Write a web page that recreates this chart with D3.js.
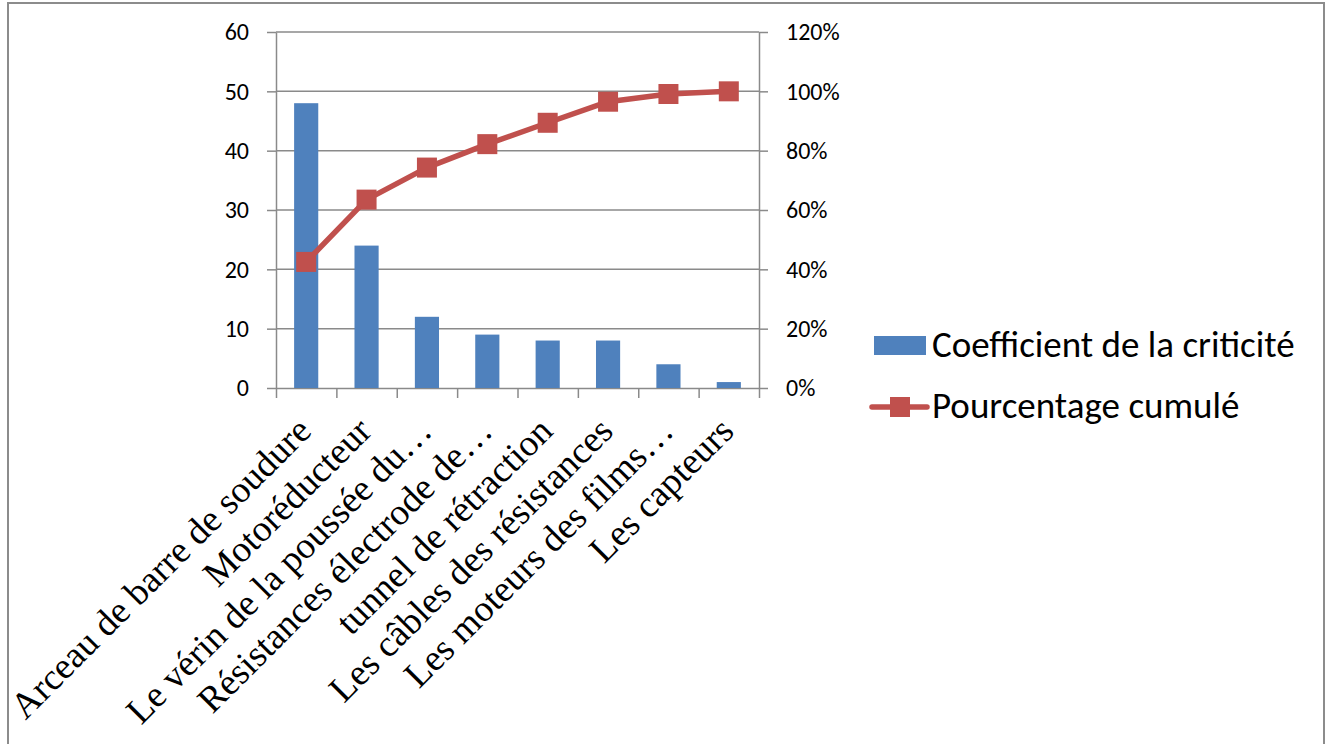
<!DOCTYPE html>
<html>
<head>
<meta charset="utf-8">
<script src="https://cdn.jsdelivr.net/npm/d3@7"></script>
<style>
  html, body { margin: 0; padding: 0; background: #fff; }
  svg { display: block; }
</style>
</head>
<body>
<svg id="chart" width="1330" height="744"></svg>
<script>
const categories = [
  "Arceau de barre de soudure",
  "Motoréducteur",
  "Le vérin de la poussée du…",
  "Résistances électrode de…",
  "tunnel de rétraction",
  "Les câbles des résistances",
  "Les moteurs des films…",
  "Les capteurs"
];
const criticite = [48, 24, 12, 9, 8, 8, 4, 1];
const cumule = [42.5, 63.5, 74.3, 82.2, 89.4, 96.5, 99.1, 100];
const leftTicks = [0, 10, 20, 30, 40, 50, 60];
const rightTicks = [0, 20, 40, 60, 80, 100, 120];
const seriesNames = ["Coefficient de la criticité", "Pourcentage cumulé"];

const BLUE = "#4F81BD", RED = "#C0504D", GRID = "#8a8a8a";
const SANS = "Carlito, Calibri, Lato, 'Open Sans', sans-serif";
const SERIF = "'Liberation Serif', 'Times New Roman', serif";

const svg = d3.select("#chart");
const L = 276, R = 759, T = 32, B = 388;

// outer frame
svg.append("rect").attr("x", 8).attr("y", 3).attr("width", 1316).attr("height", 760)
  .attr("fill", "none").attr("stroke", "#8c8c8c").attr("stroke-width", 2);

const x = d3.scaleBand().domain(categories).range([L, R]).paddingInner(0.6).paddingOuter(0.3);
const xEdge = d3.scaleLinear().domain([0, categories.length]).range([L, R]);
const yL = d3.scaleLinear().domain([0, 60]).range([B, T]);
const yR = d3.scaleLinear().domain([0, 120]).range([B, T]);

// gridlines
svg.append("g").selectAll("line").data(leftTicks.filter(d => d > 0)).join("line")
  .attr("x1", L).attr("x2", R).attr("y1", d => yL(d)).attr("y2", d => yL(d))
  .attr("stroke", GRID).attr("stroke-width", 1.5);

function styleAxis(g) {
  g.selectAll("path").attr("stroke", GRID).attr("stroke-width", 1.5);
  g.selectAll("line").attr("stroke", GRID).attr("stroke-width", 1.5);
  g.selectAll("text").attr("fill", "#000").style("font-family", SANS).style("font-size", "24px");
}

// left axis
const gl = svg.append("g").attr("transform", `translate(${L},0)`)
  .call(d3.axisLeft(yL).tickValues(leftTicks).tickSize(9).tickSizeOuter(0).tickPadding(18));
styleAxis(gl);

// right axis
const gr = svg.append("g").attr("transform", `translate(${R},0)`)
  .call(d3.axisRight(yR).tickValues(rightTicks).tickSize(9).tickSizeOuter(0).tickPadding(18).tickFormat(d => d + "%"));
styleAxis(gr);

// bottom axis with boundary ticks
const gb = svg.append("g").attr("transform", `translate(0,${B})`)
  .call(d3.axisBottom(xEdge).tickValues(d3.range(categories.length + 1)).tickSize(10).tickSizeOuter(0).tickFormat(""));
styleAxis(gb);

// bars
svg.append("g").selectAll("rect").data(criticite).join("rect")
  .attr("x", (d, i) => x(categories[i]))
  .attr("width", x.bandwidth())
  .attr("y", d => yL(d))
  .attr("height", d => B - yL(d))
  .attr("fill", BLUE);

// cumulative line
const cx = i => x(categories[i]) + x.bandwidth() / 2;
svg.append("path").datum(cumule)
  .attr("d", d3.line().x((d, i) => cx(i)).y(d => yR(d)))
  .attr("fill", "none").attr("stroke", RED).attr("stroke-width", 5.5).attr("stroke-linejoin", "round");
const MS = 20;
svg.append("g").selectAll("rect").data(cumule).join("rect")
  .attr("x", (d, i) => cx(i) - MS / 2).attr("y", d => yR(d) - MS / 2)
  .attr("width", MS).attr("height", MS).attr("fill", RED);

// category labels
svg.append("g").selectAll("text").data(categories).join("text")
  .attr("transform", d => `translate(${x(d) + x.bandwidth() / 2 + 7},${433}) rotate(-45)`)
  .attr("text-anchor", "end")
  .style("font-family", SERIF).style("font-size", "37px")
  .attr("fill", "#000")
  .text(d => d);

// legend
const lg = svg.append("g");
lg.append("rect").attr("x", 874).attr("y", 336).attr("width", 52).attr("height", 19).attr("fill", BLUE);
lg.append("text").attr("x", 932).attr("y", 357).text(seriesNames[0])
  .style("font-family", SANS).style("font-size", "37px").attr("fill", "#000");
lg.append("line").attr("x1", 872).attr("x2", 927).attr("y1", 407).attr("y2", 407)
  .attr("stroke", RED).attr("stroke-width", 5.5).attr("stroke-linecap", "round");
lg.append("rect").attr("x", 890).attr("y", 397).attr("width", 20).attr("height", 20).attr("fill", RED);
lg.append("text").attr("x", 932).attr("y", 418).text(seriesNames[1])
  .style("font-family", SANS).style("font-size", "37px").attr("fill", "#000");
</script>
</body>
</html>
